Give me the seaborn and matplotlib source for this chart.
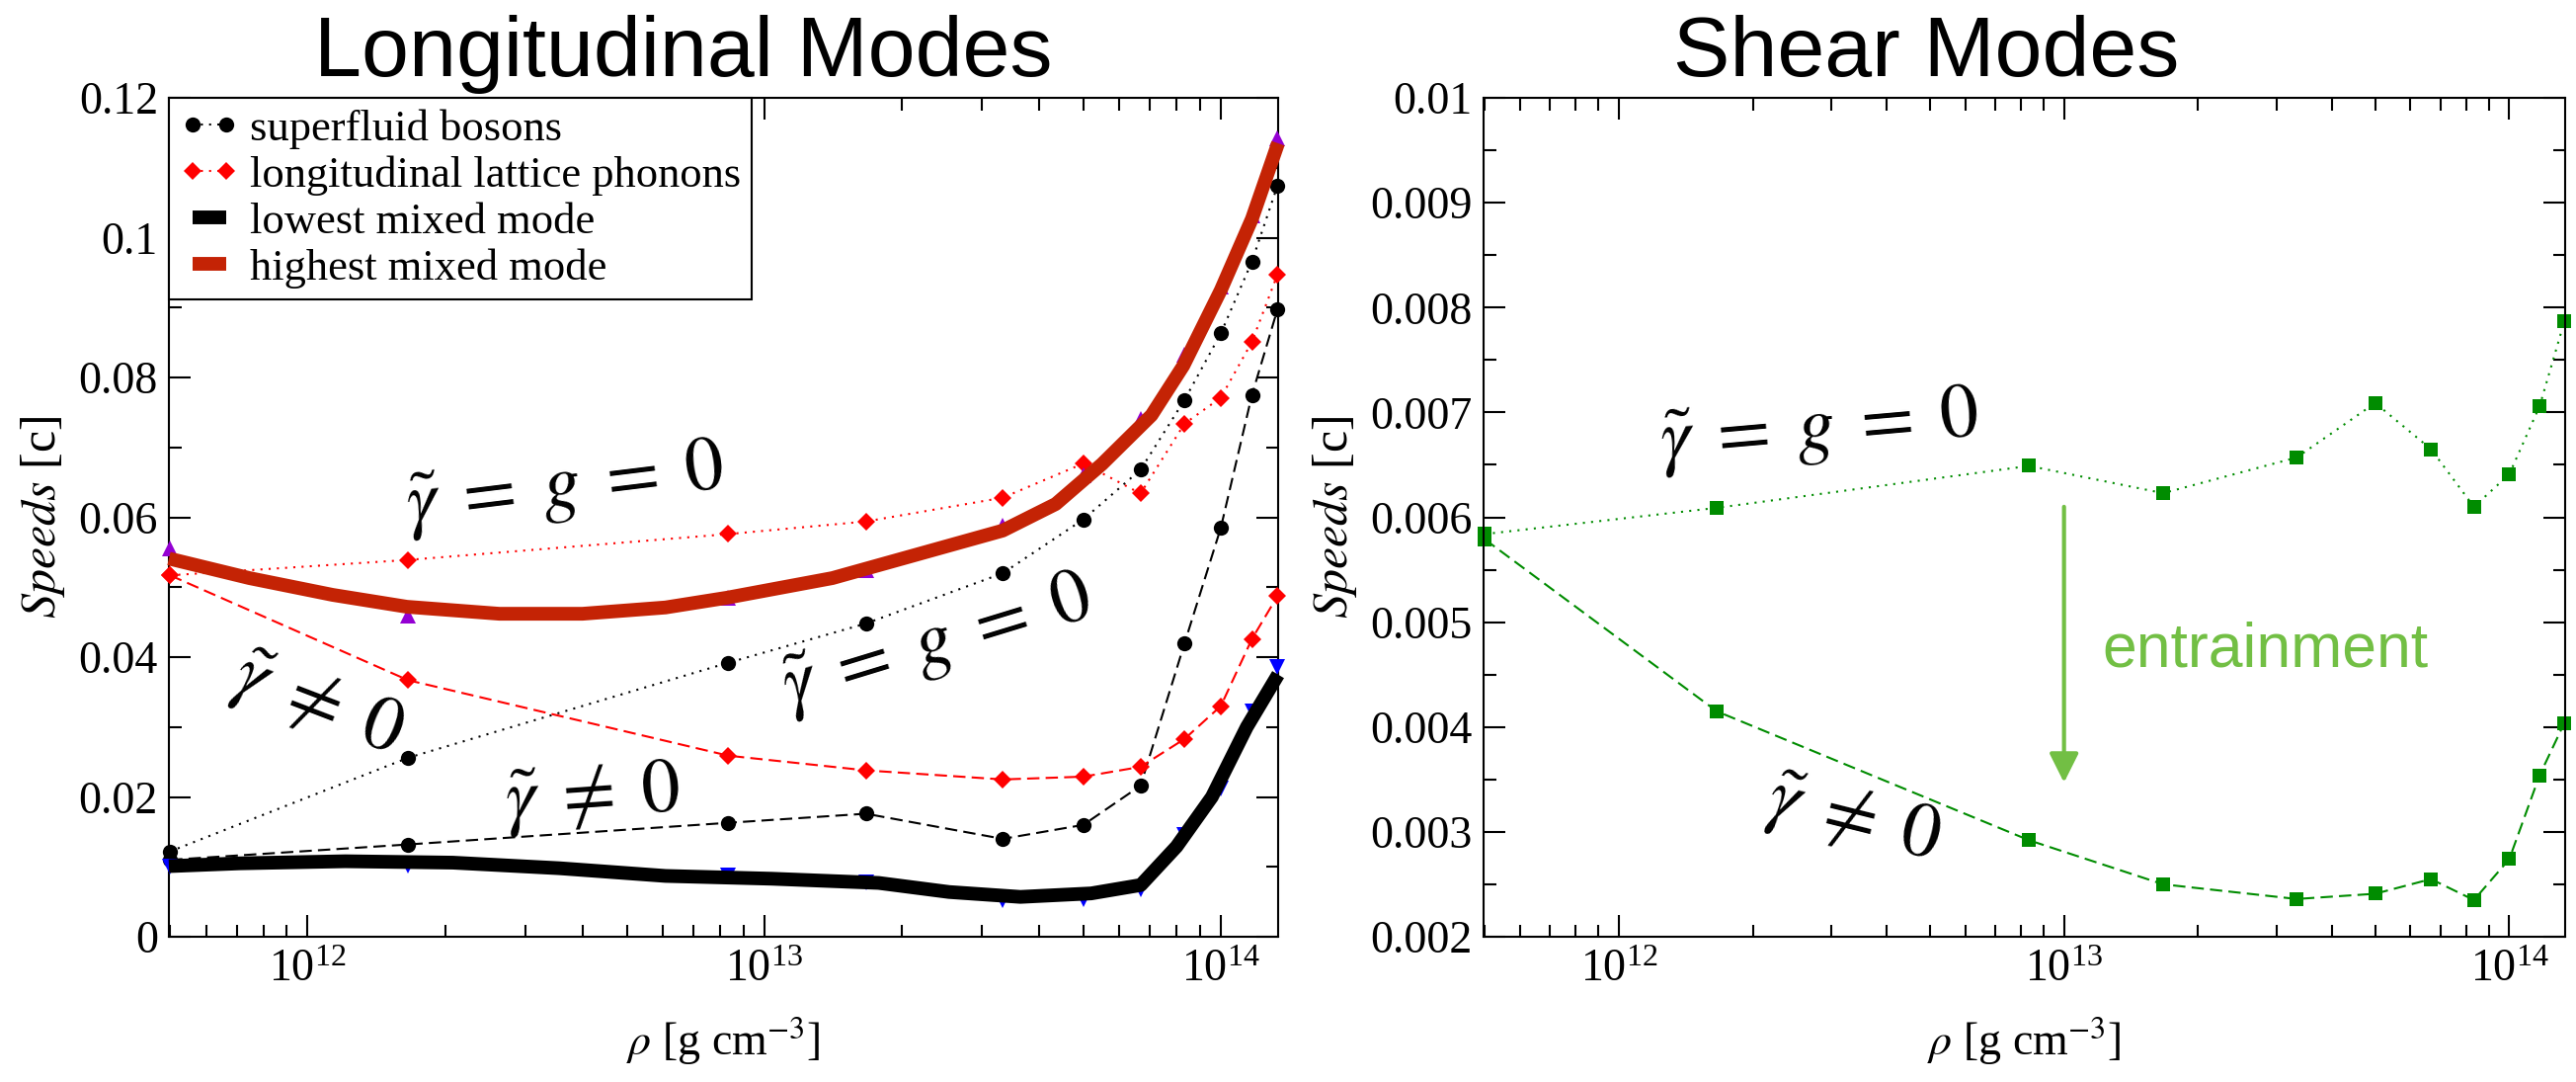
import seaborn as sns
import matplotlib.pyplot as plt
import matplotlib.ticker as mticker

# density grid shared by the marked points [g cm^-3]
rho = [5.0e11, 1.66e12, 8.35e12, 1.67e13, 3.33e13, 5.0e13, 6.67e13, 8.33e13, 1.0e14, 1.17e14, 1.33e14]

# longitudinal modes [c]
boson_free = [0.0122, 0.0256, 0.0392, 0.0448, 0.0520, 0.0597, 0.0668, 0.0768, 0.0863, 0.0966, 0.1074]
boson_entr = [0.0110, 0.0132, 0.0163, 0.0176, 0.0140, 0.0160, 0.0216, 0.0420, 0.0585, 0.0775, 0.0897]
phonon_free = [0.0517, 0.0539, 0.0576, 0.0594, 0.0628, 0.0677, 0.0634, 0.0734, 0.0771, 0.0851, 0.0947]
phonon_entr = [0.0517, 0.0367, 0.0259, 0.0238, 0.0225, 0.0229, 0.0243, 0.0283, 0.0330, 0.0426, 0.0487]
mixed_low_pts = [0.0100, 0.0102, 0.0088, 0.0078, 0.0052, 0.0054, 0.0068, 0.0146, 0.0212, 0.0322, 0.0386]
mixed_high_pts = [0.0556, 0.0460, 0.0485, 0.0525, 0.0588, 0.0660, 0.0740, 0.0833, 0.0930, 0.1032, 0.1142]

# thick smooth mixed-mode curves
high_curve_rho = [4.97e11, 7.46e11, 1.135e12, 1.65e12, 2.63e12, 4.0e12, 6.08e12, 8.3e12, 1.41e13,
                  2.14e13, 3.33e13, 4.35e13, 5.49e13, 7.05e13, 8.28e13, 1.0e14, 1.17e14, 1.335e14]
high_curve = [0.0541, 0.0513, 0.0489, 0.0472, 0.0462, 0.0462, 0.0471, 0.0485, 0.0513,
              0.0546, 0.0581, 0.0619, 0.0676, 0.0746, 0.0817, 0.0925, 0.1027, 0.1135]
low_curve_rho = [4.97e11, 7.1e11, 1.21e12, 2.08e12, 3.56e12, 6.08e12, 1.04e13, 1.78e13,
                 2.54e13, 3.64e13, 5.2e13, 6.68e13, 8.0e13, 9.56e13, 1.14e14, 1.335e14]
low_curve = [0.0101, 0.0105, 0.0108, 0.0106, 0.0098, 0.0087, 0.0083, 0.0077,
             0.0064, 0.0057, 0.0062, 0.0074, 0.0129, 0.0200, 0.0300, 0.0375]

# shear modes [c]
shear_free = [0.00584, 0.00609, 0.00649, 0.00623, 0.00657, 0.00709, 0.00665, 0.00610, 0.00641, 0.00706, 0.00787]
shear_entr = [0.00579, 0.00415, 0.00292, 0.00250, 0.00236, 0.00241, 0.00255, 0.00235, 0.00274, 0.00354, 0.00404]

legend_labels = ["superfluid bosons", "longitudinal lattice phonons", "lowest mixed mode", "highest mixed mode"]

sns.set_theme(style="ticks")
plt.rcParams["font.family"] = ["Liberation Serif", "DejaVu Serif"]
plt.rcParams["mathtext.fontset"] = "stix"
for k in ["text.color", "axes.labelcolor", "xtick.color", "ytick.color", "axes.edgecolor"]:
    plt.rcParams[k] = "black"

W, H = 2608, 1095
fig = plt.figure(figsize=(W / 100, H / 100), dpi=100)
axL = fig.add_axes([171 / W, 1 - 948 / H, 1123 / W, 849 / H])
axR = fig.add_axes([1502 / W, 1 - 948 / H, 1095 / W, 849 / H])

DOT = (0, (1, 3))
DASH = (0, (6, 3))
RED = "#ff0000"
DARKRED = "#c42305"
GREEN = "#008c00"
LIGHTGREEN = "#72bf44"
SANS = ["Liberation Sans", "DejaVu Sans"]

# left panel
sns.lineplot(x=rho, y=boson_free, ax=axL, color="black", linestyle=DOT, lw=1.5,
             marker="o", markersize=11, markeredgewidth=0, clip_on=False, zorder=3)
h_boson = axL.lines[-1]
sns.lineplot(x=rho, y=boson_entr, ax=axL, color="black", linestyle=DASH, lw=1.5,
             marker="o", markersize=11, markeredgewidth=0, clip_on=False, zorder=3)
sns.lineplot(x=rho, y=phonon_free, ax=axL, color=RED, linestyle=DOT, lw=1.5,
             marker="D", markersize=9, markeredgewidth=0, clip_on=False, zorder=3)
h_phonon = axL.lines[-1]
sns.lineplot(x=rho, y=phonon_entr, ax=axL, color=RED, linestyle=DASH, lw=1.5,
             marker="D", markersize=9, markeredgewidth=0, clip_on=False, zorder=3)

sns.lineplot(x=rho, y=mixed_high_pts, ax=axL, color="#9400d3", linestyle="", marker="^",
             markersize=12, markeredgewidth=0, clip_on=False, zorder=4)
sns.lineplot(x=rho, y=mixed_low_pts, ax=axL, color="#0000ff", linestyle="", marker="v",
             markersize=12, markeredgewidth=0, clip_on=False, zorder=4)
sns.lineplot(x=high_curve_rho, y=high_curve, ax=axL, color=DARKRED, lw=10, solid_joinstyle="round",
             solid_capstyle="butt", clip_on=False, zorder=5)
h_high = axL.lines[-1]
sns.lineplot(x=low_curve_rho, y=low_curve, ax=axL, color="black", lw=10, solid_joinstyle="round",
             solid_capstyle="butt", clip_on=False, zorder=5)
h_low = axL.lines[-1]

axL.set_ylim(0, 0.12)
axL.yaxis.set_major_locator(mticker.MultipleLocator(0.02))
axL.yaxis.set_minor_locator(mticker.MultipleLocator(0.01))

leg = axL.legend([h_boson, h_phonon, h_low, h_high], legend_labels, loc="upper left",
                 bbox_to_anchor=(0, 1), borderaxespad=0, fontsize=32, numpoints=2,
                 handlelength=1.35, handletextpad=0.25, labelspacing=0.15,
                 borderpad=0.25, fancybox=False, framealpha=1, edgecolor="black")
leg.get_frame().set_linewidth(1.5)
leg.set_zorder(10)

txt = dict(fontsize=56, ha="center", va="center", rotation_mode="anchor", color="black")
free_lbl = r"$\tilde{\gamma}\;=\;g\;=\;0$"
entr_lbl = r"$\tilde{\gamma}\;\neq\;0$"
axL.text(3.67e12, 0.0640, free_lbl, rotation=7, **txt)
axL.text(2.4e13, 0.0417, free_lbl, rotation=17, **txt)
axL.text(1.05e12, 0.0330, entr_lbl, rotation=-21, **txt)
axL.text(4.22e12, 0.0198, entr_lbl, rotation=4, **txt)

# right panel
sns.lineplot(x=rho, y=shear_free, ax=axR, color=GREEN, linestyle=DOT, lw=1.5,
             marker="s", markersize=10, markeredgewidth=0, clip_on=False)
sns.lineplot(x=rho, y=shear_entr, ax=axR, color=GREEN, linestyle=DASH, lw=1.5,
             marker="s", markersize=10, markeredgewidth=0, clip_on=False)

axR.set_ylim(0.002, 0.01)
axR.yaxis.set_major_locator(mticker.MultipleLocator(0.001))
axR.yaxis.set_minor_locator(mticker.MultipleLocator(0.0005))

axR.text(2.82e12, 0.00682, free_lbl, rotation=5, **txt)
axR.text(3.36e12, 0.00310, entr_lbl, rotation=-14, **txt)
axR.annotate("", xy=(1e13, 0.00347), xytext=(1e13, 0.0061),
             arrowprops=dict(arrowstyle="-|>,head_length=0.4,head_width=0.2", mutation_scale=45,
                             color=LIGHTGREEN, lw=3, shrinkA=0, shrinkB=0))
axR.text(1.22e13, 0.00473, "entrainment", fontsize=45, color=LIGHTGREEN, ha="left", va="center",
         family=SANS)

for ax in (axL, axR):
    ax.set_xscale("log")
    ax.set_xlim(4.97e11, 1.335e14)
    ax.xaxis.set_major_locator(mticker.LogLocator(base=10, numticks=10))
    ax.xaxis.set_minor_locator(mticker.LogLocator(base=10, subs=range(2, 10), numticks=20))
    ax.xaxis.set_minor_formatter(mticker.NullFormatter())
    ax.yaxis.set_major_formatter(mticker.FuncFormatter(lambda v, p: "%g" % round(v, 6)))
    ax.tick_params(which="both", direction="in", top=True, right=True, colors="black", width=1.5)
    ax.tick_params(which="major", length=16, labelsize=33)
    ax.tick_params(which="minor", length=9)
    ax.tick_params(axis="y", pad=8)
    ax.tick_params(axis="x", pad=9)
    for s in ax.spines.values():
        s.set_linewidth(1.5)
        s.set_color("black")
    ax.set_xlabel(r"$\rho$ [g cm$^{-3}$]", fontsize=33, labelpad=18)
    ax.set_ylabel(r"$\mathit{Speeds}$ [c]", fontsize=36, labelpad=8)
    ax.grid(False)

fig.text(692 / W, 1 - 77 / H, "Longitudinal Modes", fontsize=62, ha="center", va="baseline", family=SANS)
fig.text(1950 / W, 1 - 77 / H, "Shear Modes", fontsize=62, ha="center", va="baseline", family=SANS)

fig.savefig("out.png", dpi=100)
